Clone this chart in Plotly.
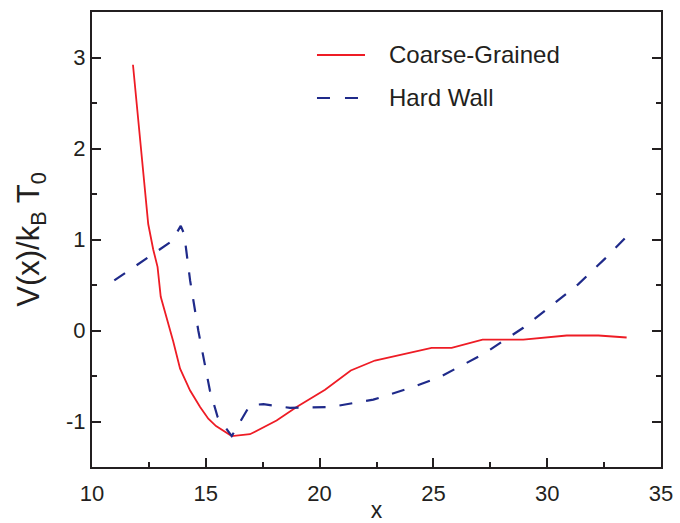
import plotly.graph_objects as go

# Coarse-grained potential profile
cg_x = [11.8, 12.47, 12.69, 12.88, 13.02, 13.3, 13.57, 13.87, 14.31, 14.75, 15.11, 15.45,
        16.14, 16.94, 18.11, 18.99, 20.24, 21.37, 22.43, 24.92, 25.80, 27.16, 28.95,
        30.86, 32.25, 33.49]
cg_v = [2.92, 1.17, 0.89, 0.70, 0.37, 0.12, -0.12, -0.42, -0.66, -0.84, -0.97, -1.05,
        -1.16, -1.14, -0.99, -0.84, -0.65, -0.44, -0.33, -0.19, -0.19, -0.10, -0.10,
        -0.055, -0.055, -0.077]

# Hard-wall potential profile
hw_x = [10.98, 13.5, 13.9, 14.05, 14.31, 14.67, 15.18, 15.52, 16.14, 16.94, 17.53,
        18.70, 20.50, 22.36, 24.12, 25.29, 27.19, 28.95, 30.12, 31.37, 32.54, 33.71]
hw_v = [0.55, 0.98, 1.15, 1.06, 0.55, 0.0, -0.66, -0.95, -1.16, -0.82, -0.81,
        -0.85, -0.84, -0.76, -0.62, -0.51, -0.26, 0.03, 0.26, 0.51, 0.79, 1.09]

series_names = ["Coarse-Grained", "Hard Wall"]
x_ticks = [10, 15, 20, 25, 30, 35]
y_ticks = [-1, 0, 1, 2, 3]
y_tick_text = ["-1", "0", "1", "2", "3"]

FONT = "Liberation Sans, Arial, sans-serif"
INK = "#231f20"
RED = "#ee1c25"
NAVY = "#1f2a8a"
DASH = "13px,14px"

fig = go.Figure()
fig.add_trace(go.Scatter(x=cg_x, y=cg_v, mode="lines", name=series_names[0],
                         showlegend=False, line=dict(color=RED, width=1.8)))
fig.add_trace(go.Scatter(x=hw_x, y=hw_v, mode="lines", name=series_names[1],
                         showlegend=False, line=dict(color=NAVY, width=2.2, dash=DASH)))

axis_common = dict(
    showgrid=False, zeroline=False, showline=True, linecolor=INK, linewidth=2,
    ticks="inside", ticklen=9, tickwidth=2, tickcolor=INK, automargin=False,
    tickfont=dict(family=FONT, size=22, color=INK),
)

fig.update_xaxes(range=[10, 35], tickvals=x_ticks, mirror=True, ticklabelstandoff=6,
                 minor=dict(ticks="inside", ticklen=5, tickwidth=2, tickcolor=INK, dtick=2.5),
                 title=dict(text="x", font=dict(family=FONT, size=23, color=INK), standoff=14),
                 **axis_common)
fig.update_yaxes(range=[-1.5, 3.5], tickvals=y_ticks, ticktext=y_tick_text, mirror="ticks",
                 minor=dict(ticks="inside", ticklen=5, tickwidth=2, tickcolor=INK, dtick=0.5),
                 title=dict(text="V(x)/k<sub>B</sub> T<sub>0</sub>",
                            font=dict(family=FONT, size=31, color=INK), standoff=17),
                 **axis_common)

# Key drawn inside the plot area: line samples plus labels
key_rows = [(0.9055, RED, 1.8, "solid", 0.4798), (0.811, NAVY, 2.2, "13px,15px", 0.4693)]
for (ky, color, width, dash, x_end), label in zip(key_rows, series_names):
    fig.add_shape(type="line", xref="paper", yref="paper", x0=0.3954, x1=x_end, y0=ky, y1=ky,
                  line=dict(color=color, width=width, dash=dash))
    fig.add_annotation(xref="paper", yref="paper", x=0.5185, y=ky, xanchor="left",
                       yanchor="middle", showarrow=False, text=label,
                       font=dict(family=FONT, size=24, color=INK))

fig.update_layout(
    width=680, height=523,
    margin=dict(l=92, r=19, t=12, b=56),
    paper_bgcolor="white", plot_bgcolor="white",
    showlegend=False,
)

fig.write_html("out.html")
